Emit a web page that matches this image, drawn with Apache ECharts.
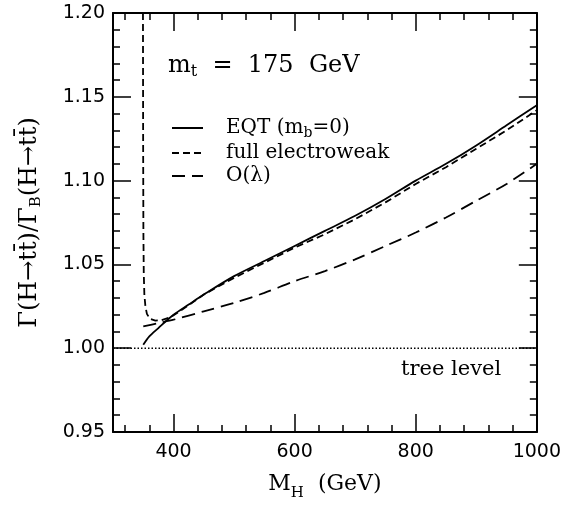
<!DOCTYPE html>
<html><head><meta charset="utf-8">
<script src="https://cdn.jsdelivr.net/npm/echarts@6/dist/echarts.min.js"></script>
<style>html,body{margin:0;padding:0;background:#fff}#c{width:564px;height:506px}</style>
</head><body><div id="c"></div>
<script>
// ---- data ----
const massEQT  = [350, 360, 375, 390, 400, 425, 450, 500, 550, 600, 650, 700, 750, 800, 850, 900, 950, 1000];
const ratioEQT = [1.002, 1.007, 1.012, 1.017, 1.020, 1.026, 1.032, 1.043, 1.052, 1.061, 1.070, 1.079, 1.089, 1.100, 1.110, 1.121, 1.133, 1.145];

const massEW  = [349.5, 349.8, 350.2, 350.8, 351.8, 353.5, 356, 361, 370, 380, 395, 410, 430, 450, 500, 550, 600, 650, 700, 750, 800, 850, 900, 950, 1000];
const ratioEW = [1.200, 1.120, 1.070, 1.045, 1.032, 1.025, 1.0205, 1.0175, 1.0165, 1.0167, 1.0185, 1.022, 1.027, 1.032, 1.042, 1.051, 1.060, 1.068, 1.077, 1.087, 1.098, 1.108, 1.119, 1.130, 1.142];

const massOL  = [350, 375, 400, 450, 500, 550, 600, 650, 700, 750, 800, 850, 900, 950, 1000];
const ratioOL = [1.013, 1.015, 1.017, 1.022, 1.027, 1.033, 1.040, 1.046, 1.053, 1.061, 1.069, 1.078, 1.088, 1.098, 1.110];

const massTree  = [300, 1000];
const ratioTree = [1.00, 1.00];

const xMajorTicks = [400, 600, 800, 1000];
const xMinorTicks = [320, 360, 440, 480, 520, 560, 640, 680, 720, 760, 840, 880, 920, 960];
const yMajorTicks = [0.95, 1.00, 1.05, 1.10, 1.15, 1.20];
const yMinorTicks = [0.96, 0.97, 0.98, 0.99, 1.01, 1.02, 1.03, 1.04, 1.06, 1.07, 1.08, 1.09, 1.11, 1.12, 1.13, 1.14, 1.16, 1.17, 1.18, 1.19];

const seriesNames = ['EQT (m_b=0)', 'full electroweak', 'O(λ)'];

// ---- helpers ----
const zip = (xs, ys) => xs.map((x, i) => [x, ys[i]]);
const BLACK = '#000';
const SERIF = 'DejaVu Serif';
const SANS = 'DejaVu Sans';
const X_MIN = 300, X_MAX = 1000, Y_MIN = 0.95, Y_MAX = 1.20;

function xAxis(pos, ticks, len, main, labels) {
  const a = {
    type: 'value', position: pos, min: X_MIN, max: X_MAX,
    axisLine: { show: main, lineStyle: { color: BLACK, width: 2 } },
    axisTick: { show: true, inside: true, length: len, customValues: ticks, lineStyle: { color: BLACK, width: 1.5 } },
    axisLabel: { show: false },
    splitLine: { show: false }
  };
  if (labels) {
    a.axisLabel = { show: true, customValues: ticks, margin: 11, color: BLACK, fontFamily: SANS, fontSize: 19,
      formatter: v => String(v) };
    a.name = '{a|M}{s|H}{a|  (GeV)}';
    a.nameLocation = 'middle';
    a.nameGap = 35;
    a.nameTextStyle = {
      rich: {
        a: { fontFamily: SERIF, fontSize: 22, lineHeight: 34, color: BLACK },
        s: { fontFamily: SERIF, fontSize: 15, lineHeight: 15, color: BLACK, verticalAlign: 'bottom' }
      }
    };
  }
  return a;
}
function yAxis(pos, ticks, len, main, labels) {
  const a = {
    type: 'value', position: pos, min: Y_MIN, max: Y_MAX,
    axisLine: { show: main, lineStyle: { color: BLACK, width: 2 } },
    axisTick: { show: true, inside: true, length: len, customValues: ticks, lineStyle: { color: BLACK, width: 1.5 } },
    axisLabel: { show: false },
    splitLine: { show: false }
  };
  if (labels) {
    a.axisLabel = { show: true, customValues: ticks, margin: 8, color: BLACK, fontFamily: SANS, fontSize: 19,
      formatter: v => v.toFixed(2) };
    a.name = '{a|Γ(H→tt\u0304)/Γ}{s|B}{a|(H→tt\u0304)}';
    a.nameLocation = 'middle';
    a.nameGap = 69;
    a.nameTextStyle = {
      rich: {
        a: { fontFamily: SERIF, fontSize: 24, lineHeight: 28, color: BLACK },
        s: { fontFamily: SERIF, fontSize: 15, lineHeight: 15, color: BLACK, verticalAlign: 'bottom' }
      }
    };
  }
  return a;
}

const legendRich = {
  g: { fontFamily: SERIF, fontSize: 20, width: 18, lineHeight: 24, color: BLACK },
  a: { fontFamily: SERIF, fontSize: 20, lineHeight: 24, color: BLACK },
  s: { fontFamily: SERIF, fontSize: 14, lineHeight: 14, color: BLACK, verticalAlign: 'bottom' }
};
function legendLabel(name) {
  if (name === seriesNames[0]) return '{g| }{a|EQT (m}{s|b}{a|=0)}';
  return '{g| }{a|' + name + '}';
}

const chart = echarts.init(document.getElementById('c'), null, { renderer: 'canvas' });
chart.setOption({
  backgroundColor: '#fff',
  animation: false,
  grid: { left: 113, right: 26, top: 13, bottom: 69, containLabel: false },
  xAxis: [
    xAxis('bottom', xMajorTicks, 18, true, true),
    xAxis('bottom', xMinorTicks, 7, false, false),
    xAxis('top', xMajorTicks, 18, true, false),
    xAxis('top', xMinorTicks, 7, false, false)
  ],
  yAxis: [
    yAxis('left', yMajorTicks, 18, true, true),
    yAxis('left', yMinorTicks, 7, false, false),
    yAxis('right', yMajorTicks, 18, true, false),
    yAxis('right', yMinorTicks, 7, false, false)
  ],
  legend: {
    data: seriesNames,
    orient: 'vertical',
    left: 166, top: 113,
    itemWidth: 31, itemHeight: 24, itemGap: 3,
    selectedMode: false,
    formatter: legendLabel,
    itemStyle: { color: 'rgba(0,0,0,0)', borderColor: 'rgba(0,0,0,0)', borderWidth: 0, opacity: 0 },
    textStyle: { rich: legendRich, color: BLACK }
  },
  graphic: [
    {
      type: 'text', left: 168, top: 54,
      style: {
        text: '{a|m}{s|t}{a|  =  175  GeV}',
        rich: {
          a: { fontFamily: SERIF, fontSize: 24, lineHeight: 28, fill: BLACK },
          s: { fontFamily: SERIF, fontSize: 16, lineHeight: 16, fill: BLACK, verticalAlign: 'bottom' }
        }
      }
    },
    {
      type: 'text', left: 401, top: 359,
      style: { text: 'tree level', fontFamily: SERIF, fontSize: 21, fill: BLACK }
    }
  ],
  series: [
    {
      name: seriesNames[0], type: 'line', data: zip(massEQT, ratioEQT), smooth: 0.3,
      symbol: 'none', lineStyle: { color: BLACK, width: 1.8, type: 'solid' }, itemStyle: { color: BLACK }
    },
    {
      name: seriesNames[1], type: 'line', data: zip(massEW, ratioEW), smooth: false,
      symbol: 'none', lineStyle: { color: BLACK, width: 1.8, type: [7, 4] }, itemStyle: { color: BLACK }
    },
    {
      name: seriesNames[2], type: 'line', data: zip(massOL, ratioOL), smooth: 0.3,
      symbol: 'none', lineStyle: { color: BLACK, width: 1.8, type: [13, 7] }, itemStyle: { color: BLACK }
    },
    {
      name: 'tree level', type: 'line', data: zip(massTree, ratioTree), symbol: 'none',
      lineStyle: { color: BLACK, width: 1.6, type: [1.5, 2] }, itemStyle: { color: BLACK }
    }
  ]
});
</script>
</body></html>
